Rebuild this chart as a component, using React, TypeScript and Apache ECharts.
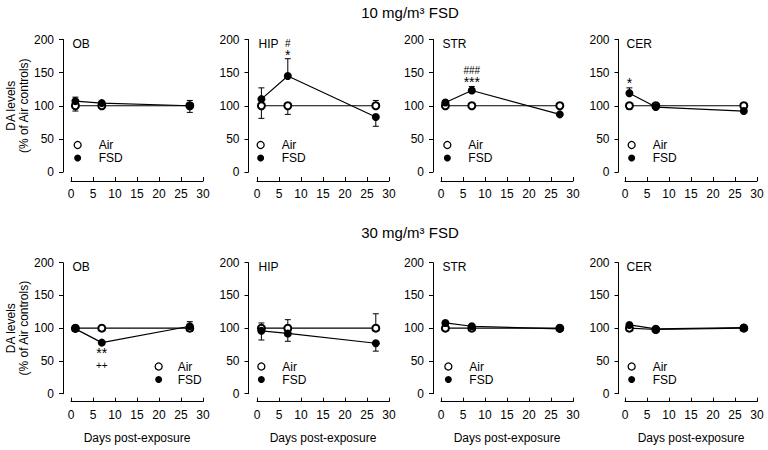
import React, { useEffect, useRef } from "react";
import * as echarts from "echarts";

// ---------- data ----------
const days = [1, 7, 27];
const regions = ["OB", "HIP", "STR", "CER"];
const doseTitles = ["10 mg/m³ FSD", "30 mg/m³ FSD"];
const xAxisTitle = "Days post-exposure";
const yAxisTitle = "DA levels\n(% of Air controls)";

// 10 mg/m3 — rows: OB, HIP, STR, CER
const airMean10 = [[100, 100, 100], [100, 100, 100], [100, 100, 100], [100, 100, 100]];
const airUp10 = [[0, 2, 0], [0, 0, 8], [0, 0, 0], [0, 0, 2]];
const airDown10 = [[8, 3, 0], [19, 13, 0], [2, 0, 0], [5, 0, 0]];
const fsdMean10 = [[107, 104, 100], [110, 145, 83], [105, 123, 87], [119, 98, 92]];
const fsdUp10 = [[6, 3, 8], [17, 26, 0], [2, 6, 0], [8, 2, 0]];
const fsdDown10 = [[0, 0, 10], [0, 0, 14], [0, 0, 2], [0, 0, 2]];

// 30 mg/m3
const airMean30 = [[100, 100, 100], [100, 100, 100], [100, 100, 100], [100, 98, 100]];
const airUp30 = [[0, 0, 0], [8, 13, 22], [0, 0, 0], [0, 0, 0]];
const airDown30 = [[5, 0, 5], [0, 0, 0], [2, 0, 0], [4, 0, 2]];
const fsdMean30 = [[99, 78, 103], [96, 92, 77], [108, 103, 99], [105, 99, 101]];
const fsdUp30 = [[4, 0, 7], [0, 0, 0], [0, 0, 2], [0, 0, 2]];
const fsdDown30 = [[4, 2, 0], [14, 12, 12], [0, 0, 0], [0, 2, 0]];

// significance marks: [region, day, level, upper line, lower line]
const sigMarks10: [string, number, number, string, string][] = [
  ["HIP", 7, 184, "#", "*"],
  ["STR", 7, 143, "###", "***"],
  ["CER", 1, 135, "", "*"],
];
const sigMarks30: [string, number, number, string, string][] = [
  ["OB", 7, 54, "**", "++"],
];

// ---------- layout ----------
const FONT = '"Liberation Sans", Arial, Helvetica, sans-serif';
const colLeft = [71, 257, 441, 625];
const plotWidth = 132;
const rowTop = [39.5, 262.7];
const rowHeight = [132.5, 131];
const yOffset = [8, 8.5, 8, 6.5];
const xOffset = [9, 8];
const legendX = [[77, 260, 446.7, 631], [158, 260.7, 447.7, 631]];
const legendY = [145, 366.5];
const legendTextPad = [[12.5, 12.5, 12.5, 12.5], [10.5, 12.5, 12.5, 12.5]];
const titleY = [12, 232];
const titleX = 410;

const markRich: any = {
  s: { fontSize: 14, lineHeight: 14, fontFamily: FONT, fill: "#000", color: "#000" },
  h: { fontSize: 10, lineHeight: 10, fontFamily: FONT, fill: "#000", color: "#000" },
  p: { fontSize: 10, lineHeight: 10, fontFamily: FONT, fill: "#000", color: "#000" },
};
function richLine(t: string) {
  if (!t) return "";
  const k = t[0] === "*" ? "s" : t[0] === "#" ? "h" : "p";
  return `{${k}|${t}}`;
}

function errorBarSeries(idx: number, means: number[], up: number[], down: number[]) {
  const data = days.map((d, i) => [d, means[i] - down[i], means[i] + up[i], means[i]]);
  return {
    type: "custom",
    xAxisIndex: idx,
    yAxisIndex: idx,
    z: 1,
    silent: true,
    encode: { x: 0, y: [1, 2] },
    data,
    renderItem: (params: any, api: any) => {
      const x = api.value(0);
      const lo = api.value(1);
      const hi = api.value(2);
      const m = api.value(3);
      if (hi - lo <= 0) return { type: "group", children: [] };
      const pLo = api.coord([x, lo]);
      const pHi = api.coord([x, hi]);
      const cap = 3;
      const st = { stroke: "#000", lineWidth: 1 };
      const children: any[] = [
        { type: "line", shape: { x1: pLo[0], y1: pLo[1], x2: pHi[0], y2: pHi[1] }, style: st },
      ];
      if (hi > m)
        children.push({ type: "line", shape: { x1: pHi[0] - cap, y1: pHi[1], x2: pHi[0] + cap, y2: pHi[1] }, style: st });
      if (lo < m)
        children.push({ type: "line", shape: { x1: pLo[0] - cap, y1: pLo[1], x2: pLo[0] + cap, y2: pLo[1] }, style: st });
      return { type: "group", children };
    },
  };
}

function markSeries(idx: number, marks: [string, number, number, string, string][]) {
  return {
    type: "custom",
    xAxisIndex: idx,
    yAxisIndex: idx,
    z: 4,
    silent: true,
    encode: { x: 0, y: 1 },
    data: marks.map((m) => [m[1], m[2], m[3], m[4]]),
    renderItem: (params: any, api: any) => {
      const m = marks[params.dataIndex];
      const p = api.coord([m[1], m[2]]);
      const lines = [richLine(m[3]), richLine(m[4])].filter((s) => s);
      return {
        type: "text",
        x: p[0],
        y: p[1],
        style: {
          text: lines.join("\n"),
          rich: markRich,
          fill: "#000",
          font: `12px ${FONT}`,
          align: "center",
          verticalAlign: "middle",
          textAlign: "center",
          textVerticalAlign: "middle",
        },
      };
    },
  };
}

function buildOption() {
  const grid: any[] = [];
  const xAxis: any[] = [];
  const yAxis: any[] = [];
  const series: any[] = [];
  const legend: any[] = [];
  const graphic: any[] = [];

  const sets = [
    [airMean10, airUp10, airDown10, fsdMean10, fsdUp10, fsdDown10, sigMarks10],
    [airMean30, airUp30, airDown30, fsdMean30, fsdUp30, fsdDown30, sigMarks30],
  ] as any[];

  for (let r = 0; r < 2; r++) {
    graphic.push({
      type: "text",
      x: titleX,
      y: titleY[r],
      style: { text: doseTitles[r], font: `15px ${FONT}`, fill: "#000", textAlign: "center", textVerticalAlign: "middle" },
    });
    const [aM, aU, aD, fM, fU, fD, marks] = sets[r];
    for (let c = 0; c < 4; c++) {
      const idx = r * 4 + c;
      grid.push({ left: colLeft[c], top: rowTop[r], width: plotWidth, height: rowHeight[r] });
      xAxis.push({
        type: "value",
        gridIndex: idx,
        min: 0,
        max: 30,
        interval: 5,
        offset: xOffset[r],
        axisLine: { show: true, onZero: false, lineStyle: { color: "#000", width: 1 } },
        axisTick: { show: true, inside: true, length: 4, lineStyle: { color: "#000", width: 1 } },
        axisLabel: { color: "#000", fontSize: 12, fontFamily: FONT, margin: 7 },
        splitLine: { show: false },
        name: r === 1 ? xAxisTitle : "",
        nameLocation: "middle",
        nameGap: 30,
        nameTextStyle: { color: "#000", fontSize: 12, fontFamily: FONT },
      });
      yAxis.push({
        type: "value",
        gridIndex: idx,
        min: 0,
        max: 200,
        interval: 50,
        offset: yOffset[c],
        axisLine: { show: true, onZero: false, lineStyle: { color: "#000", width: 1 } },
        axisTick: { show: true, inside: false, length: 4, lineStyle: { color: "#000", width: 1 } },
        axisLabel: { color: "#000", fontSize: 12, fontFamily: FONT, margin: 9 },
        splitLine: { show: false },
        name: c === 0 ? yAxisTitle : "",
        nameLocation: "middle",
        nameRotate: 90,
        nameGap: 33,
        nameTextStyle: { color: "#000", fontSize: 12, fontFamily: FONT, lineHeight: 13, align: "center" },
      });

      series.push(errorBarSeries(idx, aM[c], aU[c], aD[c]));
      series.push(errorBarSeries(idx, fM[c], fU[c], fD[c]));
      series.push({
        type: "line",
        name: "Air",
        xAxisIndex: idx,
        yAxisIndex: idx,
        z: 2,
        data: days.map((d, i) => [d, aM[c][i]]),
        symbol: "emptyCircle",
        symbolSize: 7,
        lineStyle: { color: "#000", width: 1.2 },
        itemStyle: { color: "#000", borderColor: "#000", borderWidth: 1.3 },
        silent: true,
      });
      series.push({
        type: "line",
        name: "FSD",
        xAxisIndex: idx,
        yAxisIndex: idx,
        z: 3,
        data: days.map((d, i) => [d, fM[c][i]]),
        symbol: "circle",
        symbolSize: 8,
        lineStyle: { color: "#000", width: 1.2 },
        itemStyle: { color: "#000" },
        silent: true,
      });
      const pm = (marks as [string, number, number, string, string][]).filter((m) => m[0] === regions[c]);
      if (pm.length) series.push(markSeries(idx, pm));

      legend.push({
        orient: "vertical",
        left: legendX[r][c] - 3.5,
        top: legendY[r] - 6.5,
        padding: 0,
        itemWidth: 7,
        itemHeight: 7,
        itemGap: 0,
        selectedMode: false,
        icon: "circle",
        data: [
          { name: "Air", itemStyle: { color: "#fff", borderColor: "#000", borderWidth: 1.3 } },
          { name: "FSD", itemStyle: { color: "#000", borderColor: "#000", borderWidth: 0 } },
        ],
        textStyle: {
          color: "#000",
          fontSize: 12,
          fontFamily: FONT,
          lineHeight: 13,
          padding: [0, 0, 0, legendTextPad[r][c]],
        },
      });

      graphic.push({
        type: "text",
        x: colLeft[c] + 1.5,
        y: rowTop[r] + 4,
        style: { text: regions[c], font: `12px ${FONT}`, fill: "#000", textAlign: "left", textVerticalAlign: "middle" },
      });
    }
  }

  return {
    animation: false,
    backgroundColor: "#fff",
    textStyle: { fontFamily: FONT },
    grid,
    xAxis,
    yAxis,
    legend,
    series,
    graphic,
  };
}

export default function App() {
  const ref = useRef<HTMLDivElement>(null);
  useEffect(() => {
    if (!ref.current) return;
    const chart = echarts.init(ref.current, undefined, { renderer: "svg" });
    chart.setOption(buildOption() as any);
    return () => chart.dispose();
  }, []);
  return <div ref={ref} style={{ width: 768, height: 450, position: "absolute", left: 0, top: 0 }} />;
}
